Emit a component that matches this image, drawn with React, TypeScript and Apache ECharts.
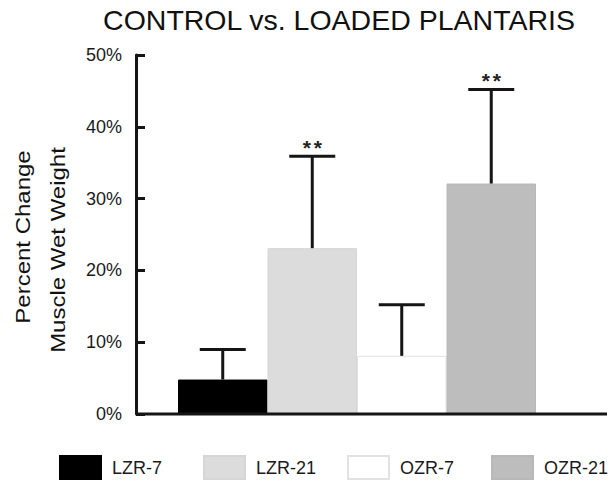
import React, { useEffect, useRef } from "react";
import * as echarts from "echarts";

const categories = ["LZR-7", "LZR-21", "OZR-7", "OZR-21"];
const means = [4.8, 23.1, 8.1, 32.1];
const sem = [4.2, 12.8, 7.1, 13.1];
const significance = ["", "**", "", "**"];
const barColors = ["#000000", "#dcdcdc", "#ffffff", "#bdbdbd"];
const barBorders = ["#000000", "#d6d6d6", "#e2e2e2", "#b8b8b8"];
const yTicks = [0, 10, 20, 30, 40, 50];
const legendLefts = [59, 203, 347, 491];

const FONT = "'Liberation Sans', Arial, Helvetica, sans-serif";

export default function App() {
  const ref = useRef<HTMLDivElement>(null);
  useEffect(() => {
    if (!ref.current) return;
    const chart = echarts.init(ref.current, undefined, { renderer: "svg" });
    const barSeries = categories.map((name, i) => ({
      name,
      type: "bar",
      stack: "all",
      barCategoryGap: "0%",
      itemStyle: { color: barColors[i], borderColor: barBorders[i], borderWidth: 1 },
      data: categories.map((_, j) => (j === i ? means[i] : "-")),
      z: 2,
    }));
    const errSeries = {
      type: "custom",
      z: 5,
      data: categories.map((_, i) => [i, means[i], sem[i]]),
      renderItem: (params: any, api: any) => {
        const idx = api.value(0);
        const m = api.value(1);
        const e = api.value(2);
        const base = api.coord([idx, m]);
        const top = api.coord([idx, m + e]);
        const half = 23;
        const style = { stroke: "#151515", lineWidth: 3 };
        const children: any[] = [
          { type: "line", shape: { x1: base[0], y1: base[1], x2: top[0], y2: top[1] }, style },
          { type: "line", shape: { x1: top[0] - half, y1: top[1], x2: top[0] + half, y2: top[1] }, style },
        ];
        const sig = significance[params.dataIndex];
        if (sig) {
          const chars = sig.split("");
          const step = 11;
          chars.forEach((ch, k) => {
            children.push({
              type: "text",
              x: top[0] + (k - (chars.length - 1) / 2) * step,
              y: top[1] - 9,
              style: {
                text: ch,
                fontSize: 21,
                fontWeight: "bold",
                fontFamily: FONT,
                fill: "#222",
                align: "center",
                verticalAlign: "middle",
              },
            });
          });
        }
        return { type: "group", children };
      },
    };
    chart.setOption({
      animation: false,
      backgroundColor: "#ffffff",
      grid: { left: 178, right: 77, top: 55, bottom: 70, containLabel: false },
      xAxis: {
        type: "category",
        data: categories,
        axisLine: { show: false },
        axisTick: { show: false },
        axisLabel: { show: false },
      },
      yAxis: {
        type: "value",
        min: yTicks[0],
        max: yTicks[yTicks.length - 1],
        interval: 10,
        offset: 42,
        splitLine: { show: false },
        axisLine: { show: true, lineStyle: { color: "#151515", width: 3 } },
        axisTick: { show: true, inside: true, length: 9, lineStyle: { color: "#151515", width: 3 } },
        axisLabel: {
          margin: 14,
          formatter: "{value}%",
          fontSize: 18,
          fontFamily: FONT,
          color: "#1a1a1a",
        },
      },
      legend: categories.map((name, i) => ({
        data: [name],
        left: legendLefts[i],
        top: 455,
        padding: 0,
        itemWidth: 41,
        itemHeight: 23,
        icon: "rect",
        selectedMode: false,
        textStyle: { fontSize: 18, fontFamily: FONT, color: "#1a1a1a", padding: [0, 0, 0, 6] },
      })),
      graphic: [
        {
          type: "line",
          shape: { x1: 136, y1: 414, x2: 607, y2: 414 },
          style: { stroke: "#151515", lineWidth: 3 },
          z: 10,
        },
        {
          type: "text",
          x: 339,
          y: 20,
          style: {
            text: "CONTROL vs. LOADED PLANTARIS",
            fontSize: 28.5,
            fontFamily: FONT,
            fill: "#111",
            align: "center",
            verticalAlign: "middle",
          },
        },
        {
          type: "text",
          x: 23,
          y: 237,
          rotation: Math.PI / 2,
          scaleX: 1.2,
          style: {
            text: "Percent Change",
            fontSize: 20,
            fontFamily: FONT,
            fill: "#111",
            align: "center",
            verticalAlign: "middle",
          },
        },
        {
          type: "text",
          x: 58,
          y: 250,
          rotation: Math.PI / 2,
          scaleX: 1.2,
          style: {
            text: "Muscle Wet Weight",
            fontSize: 20,
            fontFamily: FONT,
            fill: "#111",
            align: "center",
            verticalAlign: "middle",
          },
        },
      ],
      series: [...barSeries, errSeries],
    });
    return () => chart.dispose();
  }, []);
  return <div ref={ref} style={{ width: 613, height: 484, position: "absolute", left: 0, top: 0 }} />;
}
